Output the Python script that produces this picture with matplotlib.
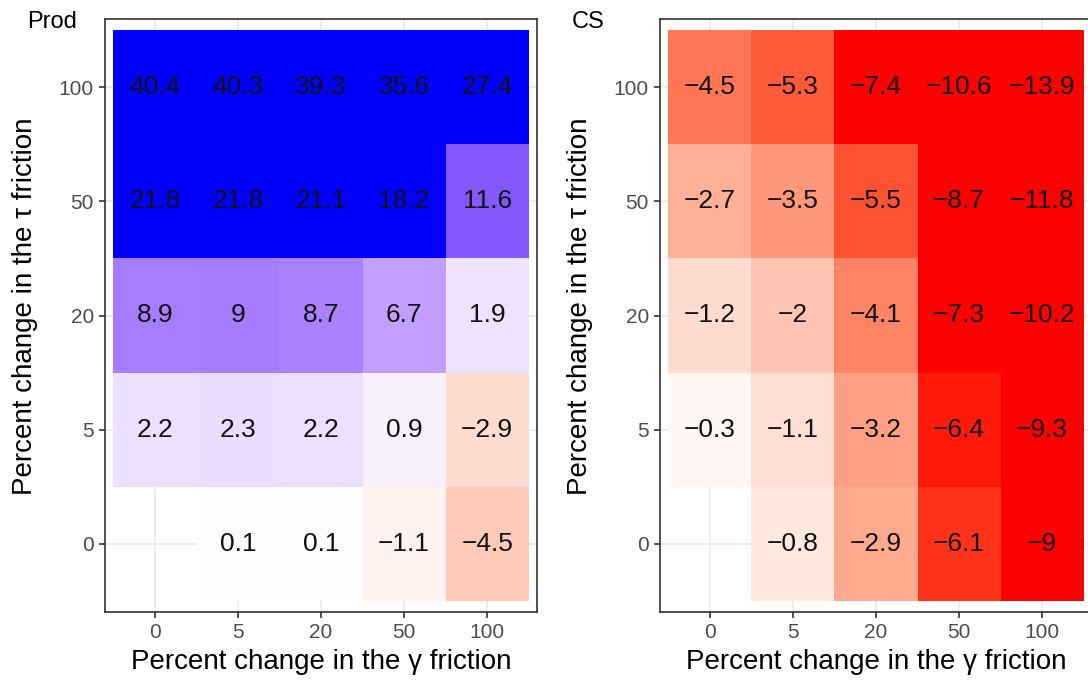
import numpy as np
import matplotlib
matplotlib.use("Agg")
from matplotlib import pyplot as plt
from matplotlib.colors import ListedColormap, Normalize

plt.rcParams['font.family'] = ['Liberation Sans', 'DejaVu Sans']

# axis categories (percent change)
gamma_levels = ['0', '5', '20', '50', '100']
tau_levels = ['0', '5', '20', '50', '100']

# rows go tau = 0, 5, 20, 50, 100 ; columns gamma = 0, 5, 20, 50, 100
prod_vals = np.array([
    [np.nan, 0.1, 0.1, -1.1, -4.5],
    [2.2, 2.3, 2.2, 0.9, -2.9],
    [8.9, 9, 8.7, 6.7, 1.9],
    [21.8, 21.8, 21.1, 18.2, 11.6],
    [40.4, 40.3, 39.3, 35.6, 27.4],
])
cs_vals = np.array([
    [np.nan, -0.8, -2.9, -6.1, -9],
    [-0.3, -1.1, -3.2, -6.4, -9.3],
    [-1.2, -2, -4.1, -7.3, -10.2],
    [-2.7, -3.5, -5.5, -8.7, -11.8],
    [-4.5, -5.3, -7.4, -10.6, -13.9],
])
panel_titles = ['Prod', 'CS']


# --- ggplot-like gradient2 (red - white - blue), mixed in Lab space ---
def srgb_to_lab(rgb):
    c = np.asarray(rgb, float)
    lin = np.where(c <= 0.04045, c / 12.92, ((c + 0.055) / 1.055) ** 2.4)
    m = np.array([[0.4124, 0.3576, 0.1805],
                  [0.2126, 0.7152, 0.0722],
                  [0.0193, 0.1192, 0.9505]])
    xyz = m @ lin / np.array([0.95047, 1.0, 1.08883])
    f = np.where(xyz > 0.008856, np.cbrt(xyz), 7.787 * xyz + 16 / 116)
    return np.array([116 * f[1] - 16, 500 * (f[0] - f[1]), 200 * (f[1] - f[2])])


def lab_to_srgb(lab):
    L, a, b = lab
    fy = (L + 16) / 116
    f = np.array([fy + a / 500, fy, fy - b / 200])
    xyz = np.where(f ** 3 > 0.008856, f ** 3, (f - 16 / 116) / 7.787)
    xyz = xyz * np.array([0.95047, 1.0, 1.08883])
    m = np.array([[3.2406, -1.5372, -0.4986],
                  [-0.9689, 1.8758, 0.0415],
                  [0.0557, -0.2040, 1.0570]])
    lin = np.clip(m @ xyz, 0, 1)
    c = np.where(lin <= 0.0031308, 12.92 * lin, 1.055 * lin ** (1 / 2.4) - 0.055)
    return np.clip(c, 0, 1)


low, mid, high = srgb_to_lab([1, 0, 0]), srgb_to_lab([1, 1, 1]), srgb_to_lab([0, 0, 1])
colors = []
for t in np.linspace(0, 1, 256):
    if t < 0.5:
        lab = low + (mid - low) * (t / 0.5)
    else:
        lab = mid + (high - mid) * ((t - 0.5) / 0.5)
    colors.append(lab_to_srgb(lab))
cmap = ListedColormap(colors)

W, H = 1088, 682
fig = plt.figure(figsize=(W / 100, H / 100), dpi=100)

panel_left = [105, 660]
panel_w, panel_top, panel_bottom = 432, 19, 612
limits = [16, 6.6]
ylab_x = [38, 593]
title_x = [27, 572]

for k, vals in enumerate([prod_vals, cs_vals]):
    ax = fig.add_axes([panel_left[k] / W, 1 - panel_bottom / H,
                       panel_w / W, (panel_bottom - panel_top) / H])
    norm = Normalize(vmin=-limits[k], vmax=limits[k], clip=True)
    nx, ny = len(gamma_levels), len(tau_levels)
    for j in range(ny):
        for i in range(nx):
            v = vals[j, i]
            if np.isnan(v):
                continue
            ax.add_patch(plt.Rectangle((i - 0.5, j - 0.5), 1, 1,
                                       facecolor=cmap(norm(v)), edgecolor='none', zorder=2))
            ax.text(i, j, f"{v:g}".replace('-', '\u2212'), ha='center', va='center',
                    fontsize=19, color='#111111', zorder=3)
    ax.set_xlim(-0.6, nx - 0.4)
    ax.set_ylim(-0.6, ny - 0.4)
    ax.set_xticks(range(nx))
    ax.set_xticklabels(gamma_levels)
    ax.set_yticks(range(ny))
    ax.set_yticklabels(tau_levels)
    ax.grid(True, color='#EBEBEB', linewidth=1.3, zorder=0)
    ax.set_axisbelow(True)
    for s in ax.spines.values():
        s.set_color('#333333')
        s.set_linewidth(1.2)
    ax.tick_params(colors='#333333', length=4, width=1.2, labelsize=15,
                   labelcolor='#4D4D4D', pad=4)
    ax.set_xlabel('Percent change in the \u03b3 friction', fontsize=20, labelpad=5)
    ax.set_ylabel('Percent change in the \u03c4 friction', fontsize=20)
    ax.yaxis.set_label_coords((ylab_x[k] - panel_left[k]) / panel_w, 0.515)
    fig.text(title_x[k] / W, 1 - 22 / H, panel_titles[k], fontsize=17,
             ha='left', va='center')

fig.savefig('out.png', dpi=100)
